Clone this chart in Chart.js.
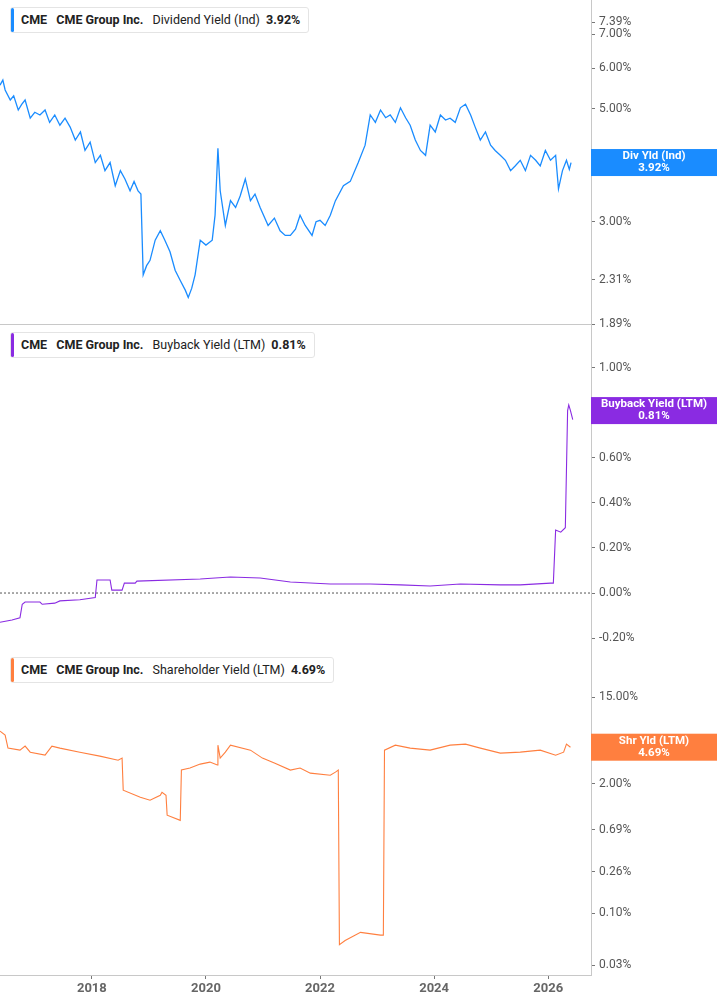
<!DOCTYPE html>
<html>
<head>
<meta charset="utf-8">
<script src="https://cdn.jsdelivr.net/npm/chart.js@4.4.1/dist/chart.umd.min.js"></script>
<style>
  body { margin: 0; background: #fff; font-family: Roboto, "Noto Sans", sans-serif; }
  canvas { display: block; }
  .panel { position: relative; width: 717px; }
  .legend {
    position: absolute; left: 10px; top: 7px; height: 24px; line-height: 24px;
    background: #fff; border: 1px solid #e4e4e4; border-radius: 3px;
    font-size: 12.5px; color: #222; padding: 0 8px 0 10px; white-space: nowrap;
  }
  .legend::before {
    content: ""; position: absolute; left: 0; top: 0; bottom: 0; width: 3px;
    background: var(--c); border-radius: 2px;
  }
  .legend b { font-weight: 700; margin-right: 6px; }
  .legend span { margin-right: 6px; }
</style>
</head>
<body>
<div class="panel"><canvas id="c1" width="717" height="333"></canvas>
  <div class="legend" style="--c:#1a8cff"><b>CME</b> <b>CME Group Inc.</b> <span>Dividend Yield (Ind)</span><b style="margin-right:0">3.92%</b></div></div>
<div class="panel" style="margin-top:-8px"><canvas id="c2" width="717" height="325"></canvas>
  <div class="legend" style="--c:#8a2be2"><b>CME</b> <b>CME Group Inc.</b> <span>Buyback Yield (LTM)</span><b style="margin-right:0">0.81%</b></div></div>
<div class="panel"><canvas id="c3" width="717" height="355"></canvas>
  <div class="legend" style="--c:#ff7f3f"><b>CME</b> <b>CME Group Inc.</b> <span>Shareholder Yield (LTM)</span><b style="margin-right:0">4.69%</b></div></div>
<script>
// x values in decimal years
const divYears = [2016.39, 2016.44, 2016.48, 2016.57, 2016.63, 2016.71, 2016.77, 2016.83, 2016.92, 2017.00, 2017.09, 2017.18, 2017.26, 2017.35, 2017.44, 2017.53, 2017.62, 2017.71, 2017.80, 2017.88, 2017.97, 2018.06, 2018.15, 2018.23, 2018.32, 2018.41, 2018.50, 2018.58, 2018.67, 2018.74, 2018.81, 2018.86, 2018.90, 2018.96, 2019.02, 2019.11, 2019.20, 2019.28, 2019.37, 2019.46, 2019.55, 2019.64, 2019.69, 2019.75, 2019.81, 2019.90, 2020.00, 2020.11, 2020.16, 2020.21, 2020.25, 2020.34, 2020.43, 2020.52, 2020.60, 2020.69, 2020.78, 2020.86, 2020.95, 2021.09, 2021.20, 2021.30, 2021.39, 2021.48, 2021.57, 2021.65, 2021.74, 2021.86, 2021.93, 2022.00, 2022.09, 2022.18, 2022.27, 2022.41, 2022.53, 2022.67, 2022.79, 2022.88, 2022.97, 2023.06, 2023.15, 2023.23, 2023.32, 2023.41, 2023.50, 2023.58, 2023.67, 2023.76, 2023.85, 2023.93, 2024.02, 2024.11, 2024.20, 2024.28, 2024.37, 2024.46, 2024.55, 2024.64, 2024.72, 2024.81, 2024.90, 2024.99, 2025.07, 2025.16, 2025.25, 2025.34, 2025.42, 2025.51, 2025.60, 2025.69, 2025.78, 2025.86, 2025.95, 2026.04, 2026.13, 2026.18, 2026.25, 2026.32, 2026.37, 2026.40];
const divValues = [5.56, 5.69, 5.44, 5.20, 5.30, 4.97, 5.10, 5.20, 4.79, 4.92, 4.86, 4.97, 4.70, 4.86, 4.64, 4.79, 4.60, 4.34, 4.50, 4.14, 4.30, 3.92, 4.05, 3.78, 3.92, 3.53, 3.78, 3.64, 3.45, 3.60, 3.45, 3.40, 2.36, 2.46, 2.52, 2.76, 2.88, 2.76, 2.62, 2.41, 2.30, 2.20, 2.13, 2.22, 2.36, 2.76, 2.70, 2.76, 3.09, 4.18, 3.45, 2.95, 3.30, 3.20, 3.37, 3.64, 3.30, 3.40, 3.20, 2.95, 3.05, 2.88, 2.82, 2.82, 2.90, 3.09, 2.95, 2.82, 3.00, 3.02, 2.95, 3.09, 3.30, 3.53, 3.60, 3.92, 4.24, 4.86, 4.70, 4.97, 4.80, 4.86, 4.70, 5.02, 4.80, 4.64, 4.34, 4.14, 4.05, 4.64, 4.50, 4.86, 4.75, 4.79, 4.70, 5.02, 5.10, 4.86, 4.60, 4.34, 4.50, 4.24, 4.14, 4.05, 3.96, 3.78, 3.86, 3.96, 3.78, 4.05, 3.96, 3.86, 4.14, 3.96, 4.05, 3.48, 3.78, 3.96, 3.80, 3.92];

const buyYears = [2016.39, 2016.60, 2016.74, 2016.78, 2016.83, 2017.09, 2017.13, 2017.35, 2017.44, 2017.79, 2018.06, 2018.09, 2018.32, 2018.35, 2018.53, 2018.57, 2018.76, 2018.79, 2019.90, 2020.16, 2020.43, 2020.95, 2021.48, 2022.18, 2022.88, 2023.41, 2023.93, 2024.46, 2025.16, 2025.51, 2026.04, 2026.09, 2026.13, 2026.22, 2026.30, 2026.34, 2026.36, 2026.39, 2026.43];
const buyValues = [-0.13, -0.12, -0.11, -0.05, -0.04, -0.04, -0.05, -0.045, -0.035, -0.03, -0.02, 0.058, 0.058, 0.013, 0.013, 0.044, 0.044, 0.053, 0.062, 0.067, 0.071, 0.067, 0.049, 0.040, 0.040, 0.036, 0.031, 0.040, 0.036, 0.036, 0.044, 0.044, 0.28, 0.27, 0.29, 0.81, 0.835, 0.81, 0.77];

const shrYears = [2016.39, 2016.48, 2016.53, 2016.74, 2016.83, 2016.92, 2017.18, 2017.30, 2017.44, 2017.79, 2018.14, 2018.46, 2018.53, 2018.55, 2018.85, 2019.02, 2019.20, 2019.23, 2019.30, 2019.32, 2019.55, 2019.57, 2019.72, 2019.90, 2020.07, 2020.20, 2020.21, 2020.25, 2020.34, 2020.43, 2020.78, 2020.99, 2021.21, 2021.48, 2021.65, 2021.83, 2022.18, 2022.27, 2022.32, 2022.34, 2022.44, 2022.71, 2023.06, 2023.11, 2023.13, 2023.32, 2023.58, 2023.93, 2024.28, 2024.55, 2024.81, 2025.16, 2025.51, 2025.86, 2026.13, 2026.27, 2026.32, 2026.39];
const shrValues = [6.81, 6.20, 4.59, 4.38, 4.81, 4.18, 3.90, 4.81, 4.59, 4.18, 3.81, 3.47, 3.64, 1.73, 1.47, 1.37, 1.54, 1.65, 1.54, 0.97, 0.86, 2.76, 2.89, 3.17, 3.32, 3.10, 4.92, 3.64, 4.18, 4.92, 4.38, 3.64, 3.24, 2.76, 2.89, 2.57, 2.45, 2.63, 2.76, 0.048, 0.053, 0.064, 0.060, 0.060, 4.38, 4.92, 4.59, 4.38, 4.92, 5.04, 4.59, 4.09, 4.18, 4.38, 3.90, 4.18, 5.04, 4.69];

const divTicks = [1.89, 2.31, 3.00, 4.00, 5.00, 6.00, 7.00, 7.39];
const buyTicks = [-0.2, 0, 0.2, 0.4, 0.6, 0.8, 1.0];
const shrTicks = [0.03, 0.10, 0.26, 0.69, 2.00, 5.00, 15.00];
const yearTicks = [2018, 2020, 2022, 2024, 2026];

const X_MIN = 2016.39, X_MAX = 2026.75;

function pts(xs, ys) { return xs.map((x, i) => ({ x: x, y: ys[i] })); }

// filled tag on the right axis at the last value
const lastTag = {
  id: "lastTag",
  afterDraw(chart, args, opts) {
    const ctx = chart.ctx, y = chart.scales.y.getPixelForValue(opts.value);
    const left = chart.chartArea.right, h = 27;
    ctx.save();
    ctx.fillStyle = opts.color;
    ctx.fillRect(left, y - h / 2, chart.width - left, h);
    ctx.fillStyle = "#fff";
    ctx.font = "bold 11.5px Roboto";
    ctx.textAlign = "center";
    ctx.textBaseline = "middle";
    const cx = (left + chart.width) / 2;
    ctx.fillText(opts.title, cx, y - 6);
    ctx.fillText(opts.text, cx, y + 6);
    ctx.restore();
  },
};

const zeroLine = {
  id: "zeroLine",
  beforeDatasetsDraw(chart, args, opts) {
    if (!opts.show) return;
    const ctx = chart.ctx, y = chart.scales.y.getPixelForValue(0);
    ctx.save();
    ctx.strokeStyle = "#555";
    ctx.lineWidth = 1;
    ctx.setLineDash([2, 2]);
    ctx.beginPath();
    ctx.moveTo(chart.chartArea.left, y);
    ctx.lineTo(chart.chartArea.right, y);
    ctx.stroke();
    ctx.restore();
  },
};

function makeChart(id, o) {
  const yScale = {
    type: o.log ? "logarithmic" : "linear",
    position: "right",
    min: o.min,
    max: o.max,
    afterBuildTicks: (s) => { s.ticks = o.ticks.map((v) => ({ value: v })); },
    afterFit: (s) => { s.width = 126; s.paddingTop = 0; s.paddingBottom = 0; },
    border: { color: "#c8c8c8" },
    grid: { drawOnChartArea: false, tickLength: 4, color: "#777" },
    ticks: {
      color: "#555",
      font: { family: "Roboto", size: 12 },
      padding: 4,
      callback: (v) => v.toFixed(2) + "%",
    },
  };
  const xScale = {
    type: "linear",
    min: X_MIN,
    max: X_MAX,
    afterBuildTicks: (s) => { s.ticks = yearTicks.map((v) => ({ value: v })); },
    afterFit: (s) => { s.height = o.showX ? 30 : 0; s.paddingLeft = 0; s.paddingRight = 0; },
    border: { color: "#c8c8c8" },
    grid: { drawOnChartArea: false, display: o.showX, tickLength: 4, color: "#777" },
    ticks: {
      display: o.showX,
      color: "#666",
      font: { family: "Roboto", size: 13, weight: "bold" },
      padding: 2,
      callback: (v) => String(v),
    },
  };
  return new Chart(document.getElementById(id), {
    type: "line",
    data: {
      datasets: [{
        data: o.data,
        borderColor: o.color,
        borderWidth: o.width,
        pointRadius: 0,
        tension: 0,
        fill: false,
      }],
    },
    options: {
      responsive: false,
      animation: false,
      layout: { padding: { top: 0, left: 0, right: 0, bottom: o.padBottom || 0 } },
      plugins: {
        legend: { display: false },
        tooltip: { enabled: false },
        lastTag: { value: o.last, color: o.color, title: o.tagTitle, text: o.tagText },
        zeroLine: { show: !!o.zero },
      },
      scales: { x: xScale, y: yScale },
    },
    plugins: [lastTag, zeroLine],
  });
}

makeChart("c1", {
  data: pts(divYears, divValues), color: "#1a8cff", width: 1.3, log: true,
  min: 1.89, max: 8.17, ticks: divTicks, last: 3.92, padBottom: 9,
  tagTitle: "Div Yld (Ind)", tagText: "3.92%", showX: false,
});
makeChart("c2", {
  data: pts(buyYears, buyValues), color: "#8a2be2", width: 1.1, log: false,
  min: -0.253, max: 1.19, ticks: buyTicks, last: 0.81, zero: true,
  tagTitle: "Buyback Yield (LTM)", tagText: "0.81%", showX: false,
});
makeChart("c3", {
  data: pts(shrYears, shrValues), color: "#ff7f3f", width: 1.1, log: true,
  min: 0.0238, max: 44.7, ticks: shrTicks, last: 4.69,
  tagTitle: "Shr Yld (LTM)", tagText: "4.69%", showX: true,
});
</script>
</body>
</html>
